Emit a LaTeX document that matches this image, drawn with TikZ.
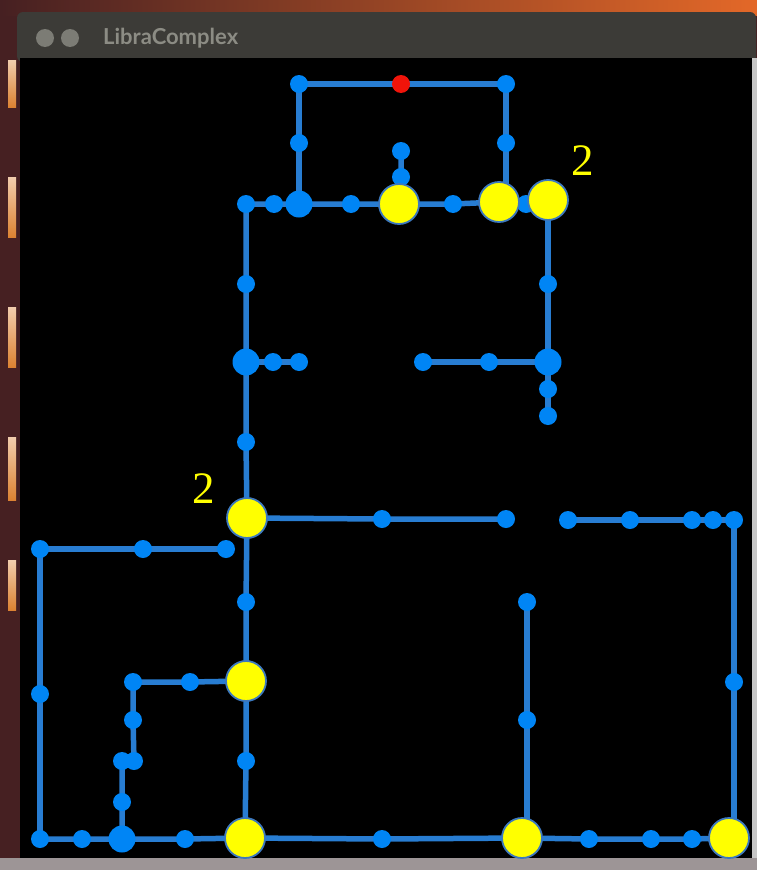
\documentclass[tikz,border=0pt]{standalone}
\usepackage{fontspec}
\setmainfont{Liberation Serif}
\newfontfamily\titlefont{Lato}
\usetikzlibrary{backgrounds}
\definecolor{edgecol}{RGB}{40,125,210}
\definecolor{nodecol}{RGB}{0,133,245}
\definecolor{ringcol}{RGB}{60,120,190}
\definecolor{nodered}{RGB}{240,20,10}
\definecolor{nodeyel}{RGB}{255,255,0}
\definecolor{titlebar}{RGB}{60,59,55}
\definecolor{titletext}{RGB}{140,140,132}
\definecolor{desk}{RGB}{70,32,34}
\definecolor{deskor}{RGB}{220,130,50}
\tikzset{
  sn/.style={circle,fill=nodecol,inner sep=0pt,minimum size=18pt},
  bn/.style={circle,fill=nodecol,inner sep=0pt,minimum size=27pt},
  rn/.style={circle,fill=nodered,inner sep=0pt,minimum size=18pt},
  yn/.style={circle,fill=nodeyel,draw=ringcol,line width=1.8pt,inner sep=0pt,minimum size=40pt},
  ed/.style={draw=edgecol,line width=5.5pt},
  lbl/.style={text=nodeyel,inner sep=0pt,font=\fontsize{45}{45}\selectfont},
}
\begin{document}
\begin{tikzpicture}[x=1pt,y=-1pt]
\useasboundingbox (0,0) rectangle (757,870);
% nodes
\node[circle,fill=titletext!80!titlebar,inner sep=0pt,minimum size=18pt] (btn1) at (45,38) {};
\node[circle,fill=titletext!80!titlebar,inner sep=0pt,minimum size=18pt] (btn2) at (70,38) {};
\node[anchor=west,text=titletext,inner sep=0pt,font=\titlefont\bfseries\fontsize{22}{22}\selectfont] (title) at (103,38) {LibraComplex};
\node[sn] (t1) at (299,84) {};
\node[rn] (r)  at (401,84) {};
\node[sn] (t3) at (506,84) {};
\node[sn] (a1) at (299,143) {};
\node[sn] (a2) at (506,143) {};
\node[sn] (h1) at (246,204) {};
\node[sn] (h2) at (274,204) {};
\node[bn] (hb) at (299,204) {};
\node[sn] (h3) at (351,204) {};
\node[sn] (h4) at (453,204) {};
\node[sn] (h5) at (526,204) {};
\node[sn] (u1) at (401,177) {};
\node[sn] (u2) at (401,151) {};
\node[yn] (y1) at (399,204) {};
\node[yn] (y2) at (499,202) {};
\node[yn] (y3) at (548,200) {};
\node[sn] (l1) at (246,284) {};
\node[bn] (lb) at (246,362) {};
\node[sn] (l2) at (246,442) {};
\node[yn] (y4) at (247,518) {};
\node[sn] (l3) at (246,602) {};
\node[yn] (y5) at (246,681) {};
\node[sn] (l4) at (246,761) {};
\node[sn] (m1) at (273,362) {};
\node[sn] (m2) at (299,362) {};
\node[sn] (r1) at (548,284) {};
\node[bn] (rb) at (548,362) {};
\node[sn] (r2) at (548,389) {};
\node[sn] (r3) at (548,416) {};
\node[sn] (r4) at (489,362) {};
\node[sn] (r5) at (423,362) {};
\node[sn] (c1) at (382,519) {};
\node[sn] (c2) at (506,519) {};
\node[sn] (d1) at (568,520) {};
\node[sn] (d2) at (630,520) {};
\node[sn] (d3) at (692,520) {};
\node[sn] (d4) at (713,520) {};
\node[sn] (d5) at (734,520) {};
\node[sn] (d6) at (734,682) {};
\node[sn] (e1) at (40,549) {};
\node[sn] (e2) at (143,549) {};
\node[sn] (e3) at (226,549) {};
\node[sn] (e4) at (40,694) {};
\node[sn] (b1) at (40,839) {};
\node[sn] (b2) at (82,839) {};
\node[bn] (bb) at (122,839) {};
\node[sn] (b3) at (185,839) {};
\node[sn] (b4) at (382,839) {};
\node[sn] (b5) at (589,839) {};
\node[sn] (b6) at (651,839) {};
\node[sn] (b7) at (692,839) {};
\node[sn] (f1) at (527,602) {};
\node[sn] (f2) at (527,720) {};
\node[sn] (g1) at (122,802) {};
\node[sn] (g2) at (122,761) {};
\node[sn] (g3) at (134,761) {};
\node[sn] (g4) at (133,720) {};
\node[sn] (g5) at (133,682) {};
\node[sn] (g6) at (190,682) {};
\node[yn] (y6) at (245,838) {};
\node[yn] (y8) at (522,838) {};
\node[yn] (y7) at (729,838) {};
\node[lbl] (lab1) at (204,489) {2};
\node[lbl] (lab2) at (583,161) {2};
\begin{scope}[on background layer]
% desktop and window chrome
\fill[desk] (0,0) rectangle (757,870);
\shade[left color=desk,right color=deskor!80!red] (0,0) rectangle (757,15);
\foreach \a/\b in {60/107,177/237,307/367,437/500,560/610}{
  \shade[top color=deskor!40!white,bottom color=deskor] (8,\a) rectangle (16,\b);}
\fill[black!30!white!80!desk] (0,858) rectangle (757,870);
\fill[titlebar,rounded corners=6pt] (17,12) rectangle (756,62);
\fill[black] (20,58) rectangle (752,858);
\fill[white!55!gray] (752,58) rectangle (757,858);
% edges
\draw[ed] (t1.center) -- (r.center) -- (t3.center);
\draw[ed] (t1.center) -- (a1.center) -- (hb.center);
\draw[ed] (t3.center) -- (a2.center) -- (506,190);
\draw[ed] (h1.center) -- (h2.center) -- (hb.center) -- (h3.center) -- (y1.center) -- (h4.center) -- (y2.center) -- (h5.center) -- (y3.center);
\draw[ed] (y1.center) -- (u1.center) -- (u2.center);
\draw[ed] (h1.center) -- (l1.center) -- (lb.center) -- (l2.center) -- (y4.center) -- (l3.center) -- (y5.center) -- (l4.center) -- (y6.center);
\draw[ed] (lb.center) -- (m1.center) -- (m2.center);
\draw[ed] (y3.center) -- (r1.center) -- (rb.center) -- (r2.center) -- (r3.center);
\draw[ed] (rb.center) -- (r4.center) -- (r5.center);
\draw[ed] (y4.center) -- (c1.center) -- (c2.center);
\draw[ed] (d1.center) -- (d2.center) -- (d3.center) -- (d4.center) -- (d5.center) -- (d6.center) -- (734,830);
\draw[ed] (e1.center) -- (e2.center) -- (e3.center);
\draw[ed] (e1.center) -- (e4.center) -- (b1.center);
\draw[ed] (b1.center) -- (b2.center) -- (bb.center) -- (b3.center) -- (y6.center) -- (b4.center) -- (y8.center) -- (b5.center) -- (b6.center) -- (b7.center) -- (y7.center);
\draw[ed] (f1.center) -- (f2.center) -- (527,830);
\draw[ed] (bb.center) -- (g1.center) -- (g2.center) -- (g3.center) -- (g4.center) -- (g5.center) -- (g6.center) -- (y5.center);
\end{scope}
\end{tikzpicture}
\end{document}
